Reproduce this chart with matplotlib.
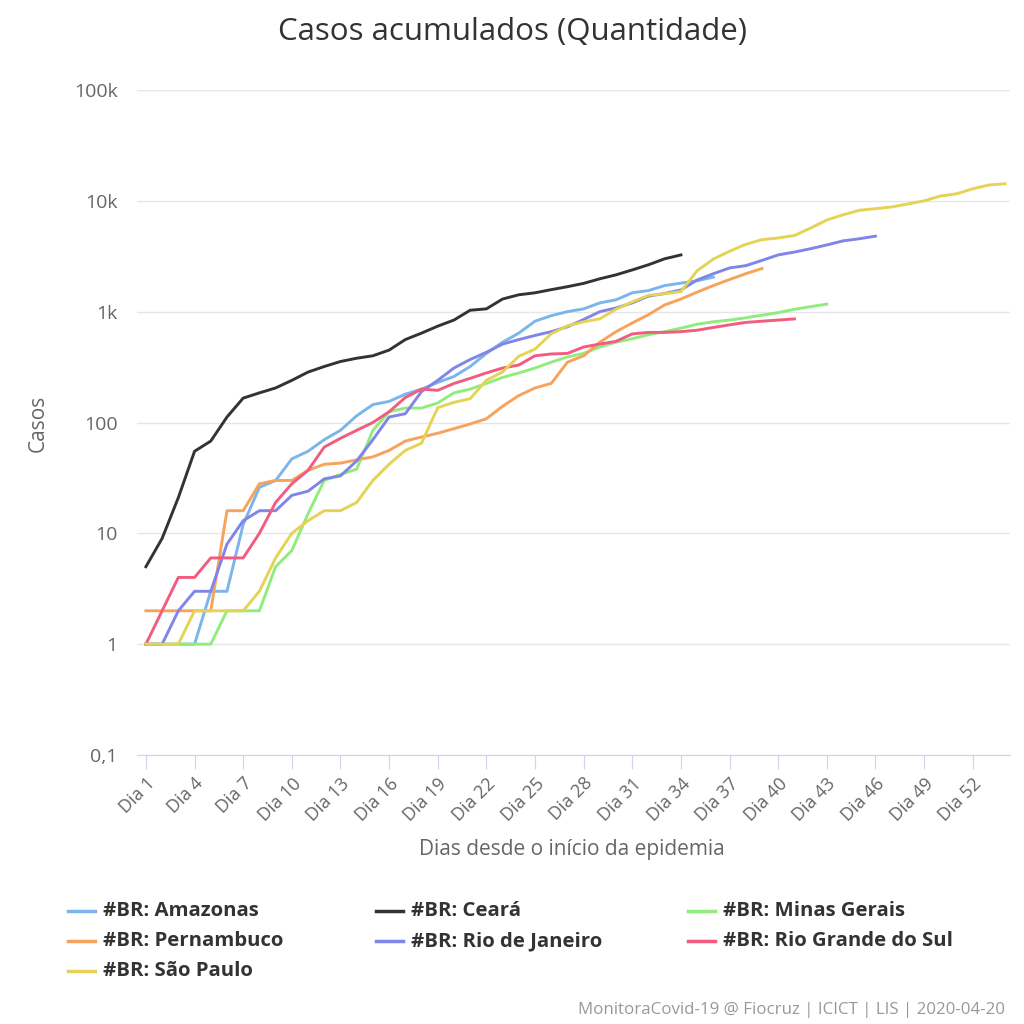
import numpy as np
import matplotlib
matplotlib.use("Agg")
import matplotlib.pyplot as plt
from matplotlib.lines import Line2D

plt.rcParams['font.family'] = ['Open Sans', 'DejaVu Sans']

# casos acumulados por dia desde o inicio (Dia 1, Dia 2, ...)
amazonas = [1, 1, 1, 1, 3, 3, 12, 26, 30, 47, 55, 70, 85, 115, 145, 155, 180, 200,
            230, 260, 320, 420, 530, 640, 820, 920, 1000, 1060, 1200, 1280, 1480,
            1550, 1720, 1810, 1900, 2050]
ceara = [5, 9, 21, 55, 68, 112, 166, 185, 205, 240, 285, 320, 355, 380, 400, 450,
         560, 640, 740, 840, 1030, 1060, 1300, 1420, 1480, 1580, 1680, 1800, 1980,
         2150, 2380, 2650, 3000, 3250]
minas = [1, 1, 1, 1, 1, 2, 2, 2, 5, 7, 15, 30, 34, 38, 85, 125, 135, 135, 150, 185,
         200, 225, 255, 280, 310, 350, 390, 420, 480, 530, 570, 620, 660, 710, 770,
         810, 840, 880, 930, 980, 1050, 1110, 1170]
pernambuco = [2, 2, 2, 2, 2, 16, 16, 28, 30, 30, 37, 42, 43, 46, 49, 56, 68, 74, 80,
              88, 97, 108, 140, 175, 205, 225, 350, 400, 530, 660, 790, 940, 1150,
              1300, 1500, 1720, 1950, 2200, 2450]
rio = [1, 1, 2, 3, 3, 8, 13, 16, 16, 22, 24, 31, 33, 45, 70, 112, 120, 190, 240, 310,
       370, 430, 510, 560, 610, 660, 730, 850, 1000, 1080, 1200, 1380, 1460, 1570,
       1930, 2200, 2480, 2600, 2900, 3250, 3450, 3700, 4000, 4350, 4550, 4800]
rgs = [1, 2, 4, 4, 6, 6, 6, 10, 19, 28, 37, 60, 72, 85, 100, 125, 168, 200, 195, 225,
       250, 280, 310, 330, 400, 415, 420, 480, 510, 540, 630, 650, 650, 660, 680, 720,
       760, 800, 820, 840, 860]
sao_paulo = [1, 1, 1, 2, 2, 2, 2, 3, 6, 10, 13, 16, 16, 19, 30, 42, 56, 65, 136, 152,
             164, 240, 286, 396, 459, 631, 745, 810, 862, 1052, 1223, 1406, 1451, 1517,
             2339, 2981, 3506, 4048, 4466, 4620, 4866, 5682, 6708, 7480, 8216, 8500,
             8800, 9371, 10000, 11043, 11568, 12841, 13894, 14267]

names = ['#BR: Amazonas', '#BR: Ceará', '#BR: Minas Gerais', '#BR: Pernambuco',
         '#BR: Rio de Janeiro', '#BR: Rio Grande do Sul', '#BR: São Paulo']
series = [amazonas, ceara, minas, pernambuco, rio, rgs, sao_paulo]
colors = ['#7cb5ec', '#333333', '#90ed7d', '#f7a35c', '#8085e9', '#f15c80', '#e4d354']

y_ticks = [0.1, 1, 10, 100, 1000, 10000, 100000]
y_labels = ['0,1', '1', '10', '100', '1k', '10k', '100k']
x_ticks = list(range(1, 55, 3))

fig = plt.figure(figsize=(10.24, 10.24), dpi=100)
ax = fig.add_axes([137/1024, 1 - 755/1024, (1010 - 137)/1024, (755 - 90)/1024])

for vals, c in zip(series, colors):
    days = np.arange(1, len(vals) + 1)
    ax.plot(days, vals, color=c, lw=2.1, solid_joinstyle='round')

ax.set_yscale('log')
ax.set_ylim(0.1, 1e5)
ax.set_xlim(0.45, 54.3)
ax.set_yticks(y_ticks)
ax.set_yticklabels(y_labels)
ax.minorticks_off()
ax.set_xticks(x_ticks)
ax.set_xticklabels(['Dia %d' % d for d in x_ticks], rotation=45, ha='right',
                   rotation_mode='anchor')
ax.grid(axis='y', color='#e6e6e6', lw=1)
ax.set_axisbelow(True)
for s in ['top', 'right', 'left']:
    ax.spines[s].set_visible(False)
ax.spines['bottom'].set_color('#ccd6eb')
ax.tick_params(axis='y', length=0, pad=14, labelsize=14, labelcolor='#666666')
ax.tick_params(axis='x', length=10, color='#ccd6eb', pad=4, labelsize=13,
               labelcolor='#666666')

fig.text(38/1024, 1 - 423/1024, 'Casos', rotation=90, ha='center', va='center',
         fontsize=15, color='#666666')
fig.text(572/1024, 1 - 850/1024, 'Dias desde o início da epidemia', ha='center',
         va='center', fontsize=15, color='#666666')
fig.text(512/1024, 1 - 32/1024, 'Casos acumulados (Quantidade)', ha='center', va='center',
         fontsize=22.5, color='#333333')

# legenda em 3 colunas, preenchida por linha
col_x = [68, 376, 688]
row_y = [911, 941, 971]
for i, (n, c) in enumerate(zip(names, colors)):
    cx = col_x[i % 3] / 1024
    cy = 1 - row_y[i // 3] / 1024
    fig.add_artist(Line2D([cx, cx + 27/1024], [cy, cy], color=c, lw=2.5))
    fig.text(cx + 35/1024, cy, n, ha='left', va='center', fontsize=14.7,
             fontweight='bold', color='#333333')

fig.text(1005/1024, 1 - 1010/1024, 'MonitoraCovid-19 @ Fiocruz | ICICT | LIS | 2020-04-20',
         ha='right', va='center', fontsize=12.2, color='#999999')

fig.savefig('out.png', dpi=100, facecolor='white')
